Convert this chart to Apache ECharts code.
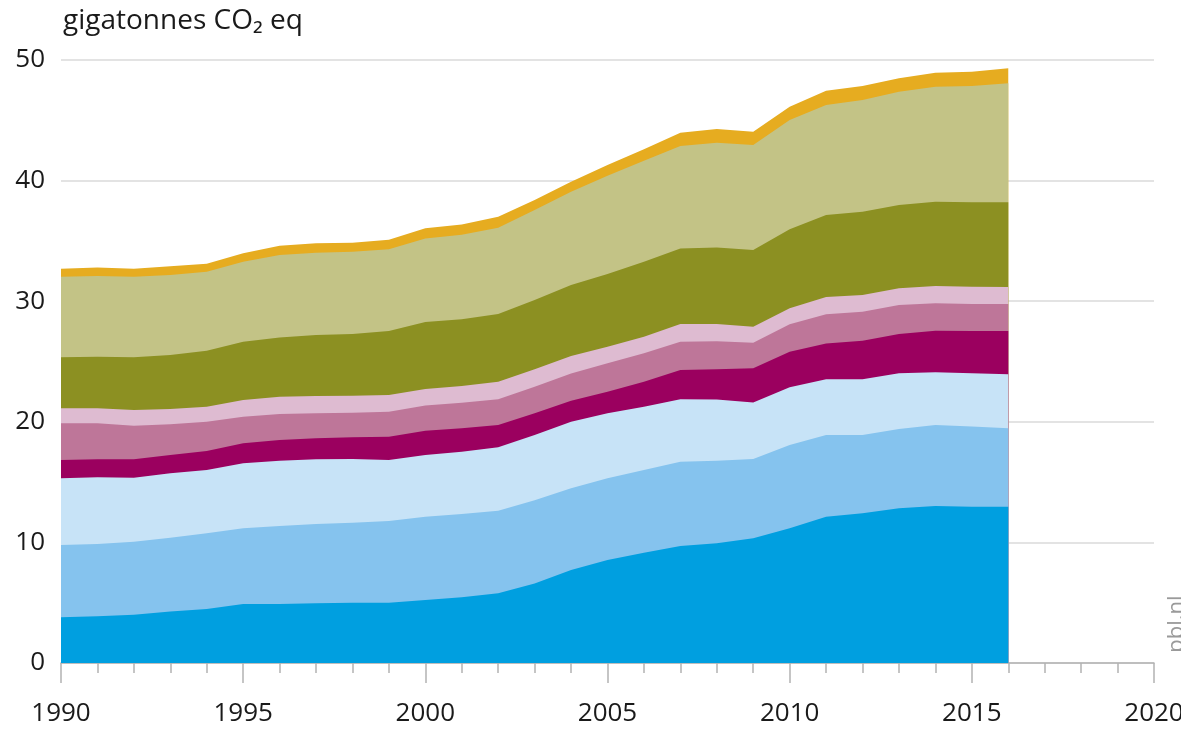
<!DOCTYPE html>
<html>
<head>
<meta charset="utf-8">
<script src="https://cdn.jsdelivr.net/npm/echarts@6/dist/echarts.min.js"></script>
<style>
html,body{margin:0;padding:0;background:#fff;}
#chart{width:1181px;height:730px;}
</style>
</head>
<body>
<div id="chart"></div>
<script>
const years = [1990,1991,1992,1993,1994,1995,1996,1997,1998,1999,2000,2001,2002,2003,2004,2005,2006,2007,2008,2009,2010,2011,2012,2013,2014,2015,2016];

const layerBlue      = [3.79,3.87,4.00,4.28,4.48,4.89,4.89,4.95,5.00,5.00,5.22,5.45,5.78,6.60,7.71,8.54,9.15,9.70,9.92,10.34,11.17,12.13,12.41,12.83,13.02,12.96,12.96];
const layerLightBlue = [5.99,6.00,6.06,6.11,6.27,6.28,6.47,6.58,6.63,6.77,6.91,6.90,6.85,6.90,6.78,6.77,6.85,6.99,6.86,6.58,6.91,6.77,6.49,6.57,6.71,6.64,6.50];
const layerPaleBlue  = [5.53,5.53,5.31,5.34,5.25,5.39,5.42,5.36,5.29,5.06,5.12,5.17,5.25,5.40,5.51,5.39,5.25,5.18,5.07,4.68,4.78,4.62,4.62,4.62,4.37,4.42,4.48];
const layerMagenta   = [1.52,1.49,1.52,1.52,1.58,1.66,1.71,1.74,1.79,1.94,2.01,1.94,1.85,1.80,1.75,1.80,2.08,2.43,2.50,2.83,2.95,2.98,3.21,3.26,3.46,3.51,3.59];
const layerMauve     = [3.05,2.99,2.79,2.54,2.42,2.20,2.16,2.07,2.05,2.07,2.09,2.12,2.13,2.20,2.25,2.35,2.35,2.34,2.32,2.13,2.27,2.41,2.40,2.40,2.26,2.24,2.24];
const layerPink      = [1.24,1.24,1.30,1.27,1.25,1.39,1.43,1.44,1.41,1.38,1.37,1.39,1.47,1.45,1.46,1.38,1.38,1.46,1.43,1.33,1.33,1.44,1.38,1.39,1.44,1.43,1.41];
const layerOlive     = [4.23,4.28,4.37,4.48,4.65,4.83,4.92,5.06,5.11,5.31,5.56,5.53,5.61,5.75,5.88,6.03,6.22,6.28,6.35,6.36,6.55,6.80,6.91,6.91,6.99,7.00,7.02];
const layerLightOlive= [6.68,6.69,6.68,6.63,6.55,6.64,6.83,6.82,6.82,6.77,6.92,7.00,7.16,7.46,7.74,8.14,8.37,8.49,8.69,8.70,9.06,9.12,9.26,9.39,9.54,9.64,9.87];
const layerOrange    = [0.67,0.71,0.67,0.73,0.65,0.69,0.77,0.78,0.75,0.80,0.84,0.87,0.90,0.84,0.82,0.90,0.95,1.10,1.14,1.11,1.11,1.19,1.16,1.11,1.16,1.19,1.24];

const yTicks = [0,10,20,30,40,50];
const xTicks = [1990,1995,2000,2005,2010,2015,2020];

const layers = [
  {name:'a', data:layerBlue,       color:'#009FE0'},
  {name:'b', data:layerLightBlue,  color:'#85C3EE'},
  {name:'c', data:layerPaleBlue,   color:'#C7E3F7'},
  {name:'d', data:layerMagenta,    color:'#9B005F'},
  {name:'e', data:layerMauve,      color:'#BE7699'},
  {name:'f', data:layerPink,       color:'#DEBBD1'},
  {name:'g', data:layerOlive,      color:'#8C9022'},
  {name:'h', data:layerLightOlive, color:'#C3C386'},
  {name:'i', data:layerOrange,     color:'#E6AC20'}
];

// running totals (stack), drawn back-to-front so each lower layer covers the one above
const running = years.map(()=>0);
const stacked = layers.map(l=>{
  const top = l.data.map((v,i)=> (running[i] = +(running[i]+v).toFixed(4)));
  return {name:l.name, color:l.color, top:top.slice()};
});
const drawOrder = stacked.slice().reverse();

const chart = echarts.init(document.getElementById('chart'), null, {renderer:'canvas'});
const FONT = 'Open Sans, Noto Sans, sans-serif';

chart.setOption({
  animation:false,
  backgroundColor:'#fff',
  title:{
    text:'gigatonnes CO₂ eq',
    left:58, top:2,
    textStyle:{fontFamily:FONT, fontSize:28, fontWeight:'normal', color:'#1a1a1a'}
  },
  grid:{left:61, right:27, top:60, bottom:67, containLabel:false, outerBoundsMode:'none'},
  xAxis:{
    type:'value', min:xTicks[0], max:xTicks[xTicks.length-1], interval:5,
    axisLine:{show:true, lineStyle:{color:'#b3b3b3', width:1.5}},
    axisTick:{show:true, length:20, lineStyle:{color:'#b3b3b3', width:1.5}},
    minorTick:{show:true, splitNumber:5, length:10, lineStyle:{color:'#b3b3b3', width:1.5}},
    splitLine:{show:false},
    axisLabel:{margin:38, fontFamily:FONT, fontSize:26, color:'#1a1a1a',
      formatter:v=> xTicks.includes(v)? String(v):''}
  },
  yAxis:{
    type:'value', min:yTicks[0], max:yTicks[yTicks.length-1], interval:10,
    axisLine:{show:false}, axisTick:{show:false},
    splitLine:{show:true, lineStyle:{color:'#dadada', width:1.5}},
    axisLabel:{margin:16, fontFamily:FONT, fontSize:26, color:'#1a1a1a',
      formatter:v=> yTicks.includes(v)? String(v):''}
  },
  graphic:[{
    type:'text', x:1177, y:624, rotation:Math.PI/2,
    style:{text:'pbl.nl', fill:'#9a9a9a', font:'22px '+FONT, textAlign:'center', textVerticalAlign:'middle'}
  }],
  series: drawOrder.map(l=>({
    name:l.name, type:'line', showSymbol:false, symbol:'none',
    lineStyle:{width:0}, areaStyle:{color:l.color, opacity:1, origin:'start'},
    itemStyle:{color:l.color},
    data: years.map((y,i)=>[y, l.top[i]])
  }))
});
</script>
</body>
</html>
